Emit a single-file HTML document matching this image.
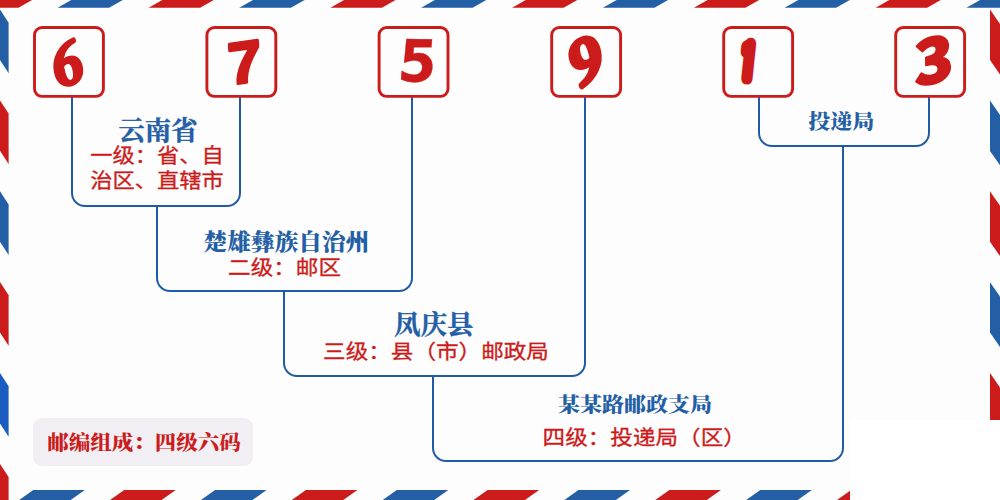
<!DOCTYPE html>
<html lang="zh-CN"><head><meta charset="utf-8"><title>675913</title>
<style>
html,body{margin:0;padding:0;background:#fcfdfc;overflow:hidden}
svg{display:block}
text{font-family:"Liberation Serif","Noto Serif CJK SC",serif;font-weight:900;fill:#245fa6}
.r{font-family:"Liberation Sans","Noto Sans CJK SC",sans-serif;font-weight:400;fill:#cc1b1b;font-size:22.6px;stroke:#cc1b1b;stroke-width:0.35px}
.t26{font-size:26.3px;font-weight:700;stroke:#245fa6;stroke-width:0.4px}.t24{font-size:23.7px}.t22{font-size:22px}
.lb{font-size:21.5px;fill:#cc1b1b}
.dg{font-size:60px;fill:#cc1b1b}
</style></head><body>
<svg width="1000" height="500" viewBox="0 0 1000 500">
<rect width="1000" height="500" fill="#fcfdfc"/>
<polygon points="57.6,7.7 109.1,7.7 122.8,0.0 71.3,0.0" fill="#245fa6"/>
<polygon points="-33.1,7.7 18.4,7.7 32.1,0.0 -19.4,0.0" fill="#cc1b1b"/>
<polygon points="239.3,7.7 290.9,7.7 304.6,0.0 253.0,0.0" fill="#245fa6"/>
<polygon points="148.6,7.7 200.1,7.7 213.8,0.0 162.3,0.0" fill="#cc1b1b"/>
<polygon points="421.1,7.7 472.6,7.7 486.3,0.0 434.8,0.0" fill="#245fa6"/>
<polygon points="330.4,7.7 381.9,7.7 395.6,0.0 344.1,0.0" fill="#cc1b1b"/>
<polygon points="602.9,7.7 654.4,7.7 668.1,0.0 616.6,0.0" fill="#245fa6"/>
<polygon points="512.1,7.7 563.6,7.7 577.3,0.0 525.8,0.0" fill="#cc1b1b"/>
<polygon points="784.6,7.7 836.1,7.7 849.8,0.0 798.3,0.0" fill="#245fa6"/>
<polygon points="693.9,7.7 745.4,7.7 759.1,0.0 707.6,0.0" fill="#cc1b1b"/>
<polygon points="966.4,7.7 1017.9,7.7 1031.5,0.0 980.1,0.0" fill="#245fa6"/>
<polygon points="875.6,7.7 927.1,7.7 940.8,0.0 889.3,0.0" fill="#cc1b1b"/>
<polygon points="33.3,490.0 84.8,490.0 70.7,500.0 19.2,500.0" fill="#245fa6"/>
<polygon points="124.2,490.0 175.7,490.0 161.6,500.0 110.1,500.0" fill="#cc1b1b"/>
<polygon points="215.1,490.0 266.6,490.0 252.5,500.0 201.0,500.0" fill="#245fa6"/>
<polygon points="305.9,490.0 357.4,490.0 343.3,500.0 291.8,500.0" fill="#cc1b1b"/>
<polygon points="396.8,490.0 448.3,490.0 434.2,500.0 382.7,500.0" fill="#245fa6"/>
<polygon points="487.6,490.0 539.1,490.0 525.0,500.0 473.5,500.0" fill="#cc1b1b"/>
<polygon points="578.5,490.0 630.0,490.0 615.9,500.0 564.4,500.0" fill="#245fa6"/>
<polygon points="669.4,490.0 720.9,490.0 706.8,500.0 655.3,500.0" fill="#cc1b1b"/>
<polygon points="760.3,490.0 811.8,490.0 797.7,500.0 746.2,500.0" fill="#245fa6"/>
<polygon points="851.1,490.0 902.6,490.0 888.5,500.0 837.0,500.0" fill="#cc1b1b"/>
<polygon points="0.0,9.6 0.0,60.0 8.6,73.2 8.6,22.8" fill="#245fa6"/>
<polygon points="0.0,100.4 0.0,150.8 8.6,164.0 8.6,113.6" fill="#cc1b1b"/>
<polygon points="0.0,191.3 0.0,241.8 8.6,254.9 8.6,204.5" fill="#245fa6"/>
<polygon points="0.0,282.1 0.0,332.5 8.6,345.8 8.6,295.3" fill="#cc1b1b"/>
<polygon points="0.0,373.1 0.0,423.5 8.6,436.7 8.6,386.3" fill="#1a5cc0"/>
<polygon points="0.0,463.9 0.0,514.3 8.6,527.5 8.6,477.1" fill="#cc1b1b"/>
<polygon points="990.0,9.6 990.0,60.0 1000.0,74.4 1000.0,24.0" fill="#cc1b1b"/>
<polygon points="990.0,100.5 990.0,150.9 1000.0,165.3 1000.0,114.9" fill="#245fa6"/>
<polygon points="990.0,191.3 990.0,241.8 1000.0,256.1 1000.0,205.8" fill="#cc1b1b"/>
<polygon points="990.0,282.2 990.0,332.6 1000.0,347.1 1000.0,296.6" fill="#245fa6"/>
<polygon points="990.0,373.1 990.0,423.5 1000.0,437.9 1000.0,387.5" fill="#cc1b1b"/>
<polygon points="990.0,464.0 990.0,514.4 1000.0,528.8 1000.0,478.4" fill="#245fa6"/>
<rect x="850" y="420" width="150" height="80" fill="#ffffff"/>
<path d="M72.0,97.0 V193.0 A13,13 0 0 0 85.0,206.0 H227.0 A13,13 0 0 0 240.0,193.0 V97.0" fill="none" stroke="#205ca6" stroke-width="2"/>
<path d="M157.0,206.0 V278.0 A13,13 0 0 0 170.0,291.0 H399.0 A13,13 0 0 0 412.0,278.0 V97.0" fill="none" stroke="#205ca6" stroke-width="2"/>
<path d="M284.0,291.0 V363.0 A13,13 0 0 0 297.0,376.0 H572.0 A13,13 0 0 0 585.0,363.0 V97.0" fill="none" stroke="#205ca6" stroke-width="2"/>
<path d="M433.0,376.0 V448.0 A13,13 0 0 0 446.0,461.0 H830.0 A13,13 0 0 0 843.0,448.0 V146.0" fill="none" stroke="#205ca6" stroke-width="2"/>
<path d="M759.0,97.0 V133.0 A13,13 0 0 0 772.0,146.0 H916.0 A13,13 0 0 0 929.0,133.0 V97.0" fill="none" stroke="#205ca6" stroke-width="2"/>
<rect x="33" y="418" width="220" height="48" rx="9" fill="#f1eff4"/>
<rect x="34.50" y="27.5" width="68.9" height="68.9" rx="7.5" fill="#fcfdfc" stroke="#cc1b1b" stroke-width="2.9"/>
<rect x="206.90" y="27.5" width="68.9" height="68.9" rx="7.5" fill="#fcfdfc" stroke="#cc1b1b" stroke-width="2.9"/>
<rect x="379.10" y="27.5" width="68.9" height="68.9" rx="7.5" fill="#fcfdfc" stroke="#cc1b1b" stroke-width="2.9"/>
<rect x="551.70" y="27.5" width="68.9" height="68.9" rx="7.5" fill="#fcfdfc" stroke="#cc1b1b" stroke-width="2.9"/>
<rect x="723.70" y="27.5" width="68.9" height="68.9" rx="7.5" fill="#fcfdfc" stroke="#cc1b1b" stroke-width="2.9"/>
<rect x="895.70" y="27.5" width="68.9" height="68.9" rx="7.5" fill="#fcfdfc" stroke="#cc1b1b" stroke-width="2.9"/>
<text class="dg" style="font-family:&quot;Noto Serif CJK SC&quot;,sans-serif;font-weight:700;font-style:normal;stroke:#cc1b1b;stroke-width:5.1px;stroke-linejoin:round;" text-anchor="middle" transform="translate(70.98,83.25) rotate(-16.9) skewX(-5.9) scale(0.834,0.901)">6</text>
<text class="dg" style="font-family:&quot;Liberation Sans&quot;,sans-serif;font-weight:700;font-style:normal;stroke:#cc1b1b;stroke-width:3.1px;stroke-linejoin:round;" text-anchor="middle" transform="translate(246.11,82.49) rotate(-8.0) skewX(-4.1) scale(1.005,0.974)">7</text>
<text class="dg" style="font-family:&quot;DejaVu Sans&quot;,sans-serif;font-weight:700;font-style:italic;stroke:#cc1b1b;stroke-width:0.4px;stroke-linejoin:round;" text-anchor="middle" transform="translate(419.68,81.65) rotate(0.9) skewX(6.0) scale(0.915,0.970)">5</text>
<text class="dg" style="font-family:&quot;Noto Serif CJK SC&quot;,sans-serif;font-weight:700;font-style:normal;stroke:#cc1b1b;stroke-width:6.0px;stroke-linejoin:round;" text-anchor="middle" transform="translate(591.38,81.26) rotate(-23.4) skewX(-9.7) scale(0.928,0.931)">9</text>
<text class="dg" style="font-family:&quot;IPAGothic&quot;,sans-serif;font-weight:400;font-style:normal;stroke:#cc1b1b;stroke-width:16.0px;stroke-linejoin:round;" text-anchor="middle" transform="translate(746.25,80.46) rotate(7.8) skewX(1.8) scale(0.539,0.808)">1</text>
<text class="dg" style="font-family:&quot;Noto Sans CJK SC&quot;,sans-serif;font-weight:900;font-style:normal;stroke:#cc1b1b;stroke-width:2.0px;stroke-linejoin:round;" text-anchor="middle" transform="translate(934.21,82.83) rotate(-12.8) skewX(-11.6) scale(1.097,0.993)">3</text>
<text class="t26" x="158.0" y="140.0" text-anchor="middle">云南省</text>
<text class="r" transform="translate(157.0,163.0) scale(1,0.900)" text-anchor="middle"><tspan style="font-size:22.3px">一级：省、自</tspan></text>
<text class="r" transform="translate(157.0,187.8) scale(1,0.900)" text-anchor="middle"><tspan style="font-size:22.3px">治区、直辖市</tspan></text>
<text class="t24" transform="translate(286.5,250.0) scale(1,0.940)" text-anchor="middle">楚雄彝族自治州</text>
<text class="r" transform="translate(284.5,274.7) scale(1,0.900)" text-anchor="middle">二级：邮区</text>
<text class="t26" x="433.8" y="334.0" text-anchor="middle">凤庆县</text>
<text class="r" transform="translate(436.0,359.0) scale(1,0.900)" text-anchor="middle">三级：县（市）邮政局</text>
<text class="t22" transform="translate(635.0,412.0) scale(1,0.940)" text-anchor="middle">某某路邮政支局</text>
<text class="r" transform="translate(644.2,444.5) scale(1,0.900)" text-anchor="middle">四级：投递局（区）</text>
<text class="t22" transform="translate(841.2,129.2) scale(1,0.940)" text-anchor="middle">投递局</text>
<text class="lb" transform="translate(144.0,450.0) scale(1,0.940)" text-anchor="middle">邮编组成：四级六码</text>
</svg>
</body></html>
